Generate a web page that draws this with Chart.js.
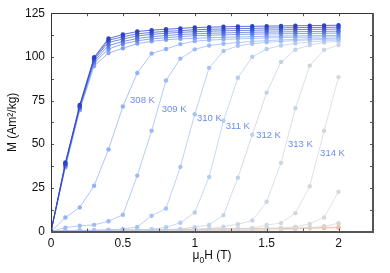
<!DOCTYPE html>
<html><head><meta charset="utf-8">
<script src="https://cdn.jsdelivr.net/npm/chart.js@4.4.1/dist/chart.umd.min.js"></script>
<style>html,body{margin:0;padding:0;background:#fff}#wrap{width:390px;height:273px}</style>
</head><body><div id="wrap"><canvas id="c" width="390" height="273"></canvas></div>
<script>
// field values (T)
const fieldT = [0,0.1,0.2,0.3,0.4,0.5,0.6,0.7,0.8,0.9,1.0,1.1,1.2,1.3,1.4,1.5,1.6,1.7,1.8,1.9,2.0];
// magnetization series (Am^2/kg), one per temperature
const m302 = [0,39.5,72.5,99.8,110.5,112.8,114.5,115.3,115.8,116.3,116.8,117,117.2,117.4,117.5,117.6,117.7,117.8,117.9,118,118.1];
const m303 = [0,39,72,99.2,109.5,111.5,113.2,114,114.6,115,115.5,115.8,116,116.2,116.3,116.5,116.6,116.7,116.8,116.9,117];
const m304 = [0,38.5,71.5,98.5,108.3,110.2,112,112.9,113.5,114,114.4,114.7,114.9,115.1,115.2,115.4,115.5,115.6,115.7,115.8,115.9];
const m305 = [0,38,71,97.5,106.5,108.8,110.5,111.6,112.2,112.8,113.2,113.5,113.7,113.9,114.1,114.2,114.3,114.4,114.5,114.6,114.7];
const m306 = [0,37.5,70.5,96.5,104.5,107.4,109.2,110.3,111,111.6,112.1,112.4,112.6,112.8,113,113.1,113.2,113.3,113.4,113.5,113.6];
const m307 = [0,36.8,69.5,94.8,102.2,104.9,107.6,108.9,109.8,110.3,110.6,110.9,111.2,111.4,111.6,111.8,111.9,112,112.1,112.2,112.3];
const m308 = [0,8,13.8,26.2,47,71.6,90.8,101.9,104.5,107.3,109,109.6,110,110.3,110.6,110.8,111,111.2,111.3,111.4,111.5];
const m309 = [0,2.2,3.3,3.8,5.9,9.6,32,57.7,86.5,99,104.3,106.5,107.5,108.2,108.8,109.3,109.7,110,110.3,110.5,110.7];
const m310 = [0,0.5,0.7,0.8,1.0,1.4,2.6,9.0,13.2,37,67.2,93.7,103.4,106.3,107.5,108.3,108.9,109.3,109.7,110,110.2];
const m311 = [0,0.2,0.3,0.4,0.5,0.7,0.9,1.3,2.4,5,10.9,31.2,63.4,88,100,104.5,106.5,107.7,108.5,109.1,109.6];
const m312 = [0,0.1,0.2,0.3,0.3,0.4,0.5,0.7,0.9,1.4,2.5,3.7,9.4,30.8,55.4,79.5,97.1,104.1,106.8,108.2,109];
const m313 = [0,0.1,0.1,0.2,0.2,0.3,0.4,0.5,0.6,0.8,1.0,1.6,2.8,4.2,6.3,17,39.3,70.6,95,104,106.8];
const m314 = [0,0.1,0.1,0.1,0.2,0.2,0.3,0.3,0.4,0.5,0.6,0.8,1.0,1.4,2.0,3.7,4.8,10.5,25.9,57.7,88.4];
const m315 = [0,0.1,0.1,0.1,0.1,0.2,0.2,0.2,0.3,0.3,0.4,0.5,0.6,0.8,1.0,1.4,2.0,2.8,4.3,8,22.8];
const m316 = [0,0.1,0.1,0.1,0.1,0.1,0.2,0.2,0.2,0.3,0.3,0.4,0.4,0.5,0.6,0.8,1.0,1.3,2.0,3.0,4.7];
const m317 = [0,0.3,0.5,0.6,0.8,0.9,1.0,1.1,1.2,1.3,1.4,1.5,1.6,1.7,1.8,1.9,2.0,2.1,2.2,2.4,2.6];
const m318 = [0,0.2,0.4,0.5,0.6,0.7,0.8,0.9,1.0,1.1,1.2,1.3,1.4,1.5,1.5,1.6,1.7,1.8,1.9,2.0,2.1];
const seriesNames = ['302 K','303 K','304 K','305 K','306 K','307 K','308 K','309 K','310 K','311 K','312 K','313 K','314 K','315 K','316 K','317 K','318 K'];
const seriesValues = [m302,m303,m304,m305,m306,m307,m308,m309,m310,m311,m312,m313,m314,m315,m316,m317,m318];
const seriesColors = ['#2b42c6','#3750d0','#4660d8','#5673e0','#6a88ea','#82a0f2','#92b2f8','#9dbaf7','#a8c2f5','#b6ccf1','#c2d0ea','#ccd4e3','#d3d7dc','#d8d8d8','#dcd3cf','#f2c2ac','#f0b093'];
// temperature annotations
const labelTexts = ['308 K','309 K','310 K','311 K','312 K','313 K','314 K'];
const labelX = [0.55,0.77,1.016,1.216,1.427,1.649,1.872];
const labelY = [75.3,70,65,60.1,54.9,49.7,45];
const xTickVals = [0,0.5,1,1.5,2];
const yTickVals = [0,25,50,75,100,125];

function withAlpha(hex,a){const n=parseInt(hex.slice(1),16);return `rgba(${n>>16},${(n>>8)&255},${n&255},${a})`;}

const datasets = seriesValues.map((vals,i)=>({
  label: seriesNames[i],
  data: fieldT.map((x,j)=>({x:x,y:vals[j]})),
  borderColor: withAlpha(seriesColors[i],0.75),
  backgroundColor: seriesColors[i],
  pointBackgroundColor: seriesColors[i],
  pointBorderWidth: 0,
  pointRadius: 2.2,
  borderWidth: 1,
  tension: 0,
  fill: false
}));

const framePlugin = {
  id:'frame',
  afterDraw(chart){
    const ctx = chart.ctx, ca = chart.chartArea, xs = chart.scales.x, ys = chart.scales.y;
    ctx.save();
    ctx.strokeStyle = '#555'; ctx.lineWidth = 1;
    ctx.beginPath();
    for (let v=0; v<=125.01; v+=12.5){
      const y = Math.round(ys.getPixelForValue(v))+0.5;
      ctx.moveTo(ca.left, y); ctx.lineTo(ca.left+3, y);
      ctx.moveTo(ca.right-3, y); ctx.lineTo(ca.right, y);
    }
    for (let v=0; v<=2.24; v+=0.25){
      const x = Math.round(xs.getPixelForValue(v))+0.5;
      ctx.moveTo(x, ca.bottom); ctx.lineTo(x, ca.bottom-3);
      ctx.moveTo(x, ca.top); ctx.lineTo(x, ca.top+3);
    }
    ctx.stroke();
    // frame
    ctx.strokeStyle = '#333'; ctx.lineWidth = 1;
    ctx.beginPath();
    ctx.moveTo(Math.round(ca.left)+0.5, Math.round(ca.bottom));
    ctx.lineTo(Math.round(ca.left)+0.5, Math.round(ca.top)+0.5);
    ctx.lineTo(Math.round(ca.right), Math.round(ca.top)+0.5);
    ctx.stroke();
    ctx.strokeStyle = '#555'; ctx.lineWidth = 2;
    ctx.beginPath();
    ctx.moveTo(Math.round(ca.right), Math.round(ca.top));
    ctx.lineTo(Math.round(ca.right), Math.round(ca.bottom));
    ctx.lineTo(Math.round(ca.left), Math.round(ca.bottom));
    ctx.stroke();
    // temperature labels
    ctx.fillStyle = '#6c8cec';
    ctx.font = '9.5px "Liberation Sans", Arial, sans-serif';
    ctx.textBaseline = 'middle'; ctx.textAlign = 'left';
    labelTexts.forEach((t,i)=>{
      ctx.fillText(t, xs.getPixelForValue(labelX[i]), ys.getPixelForValue(labelY[i]));
    });
    // x title: mu_0 H (T)
    ctx.fillStyle = '#111';
    ctx.textBaseline = 'alphabetic';
    const big = '12px "Liberation Sans", Arial, sans-serif', small = '8.5px "Liberation Sans", Arial, sans-serif';
    ctx.font = big; const w1 = ctx.measureText('\u03bc').width, w3 = ctx.measureText('H (T)').width;
    ctx.font = small; const w2 = ctx.measureText('0').width;
    let x0 = (ca.left+ca.right)/2 - (w1+w2+w3)/2;
    const base = 259;
    ctx.font = big; ctx.fillText('\u03bc', x0, base);
    ctx.font = small; ctx.fillText('0', x0+w1, base+3.5);
    ctx.font = big; ctx.fillText('H (T)', x0+w1+w2, base);
    // y title
    ctx.translate(13, (ca.top+ca.bottom)/2);
    ctx.rotate(-Math.PI/2);
    ctx.textAlign = 'center'; ctx.textBaseline = 'middle';
    ctx.font = big;
    ctx.fillText('M (Am\u00b2/kg)', 0, 0);
    ctx.restore();
  }
};

new Chart(document.getElementById('c'), {
  type: 'line',
  data: { datasets },
  options: {
    responsive: false, animation: false,
    layout: { padding: { top: 11, right: 17, left: 0, bottom: 0 } },
    plugins: { legend: { display: false }, tooltip: { enabled: false } },
    scales: {
      x: {
        type: 'linear', min: 0, max: 2.24,
        grid: { display: false, drawTicks: false },
        border: { display: false },
        afterBuildTicks: s => { s.ticks = xTickVals.map(v=>({value:v})); },
        afterFit: s => { s.height = 41.5; },
        ticks: { padding: 5, color: '#111', font: { size: 12, family: '"Liberation Sans", Arial, sans-serif' }, maxRotation: 0, callback: v => String(v) }
      },
      y: {
        type: 'linear', min: 0, max: 125,
        grid: { display: false, drawTicks: false },
        border: { display: false },
        afterBuildTicks: s => { s.ticks = yTickVals.map(v=>({value:v})); },
        afterFit: s => { s.width = 51; },
        ticks: { padding: 6, color: '#111', font: { size: 12, family: '"Liberation Sans", Arial, sans-serif' }, callback: v => String(v) }
      }
    }
  },
  plugins: [framePlugin]
});
</script>
</body></html>
